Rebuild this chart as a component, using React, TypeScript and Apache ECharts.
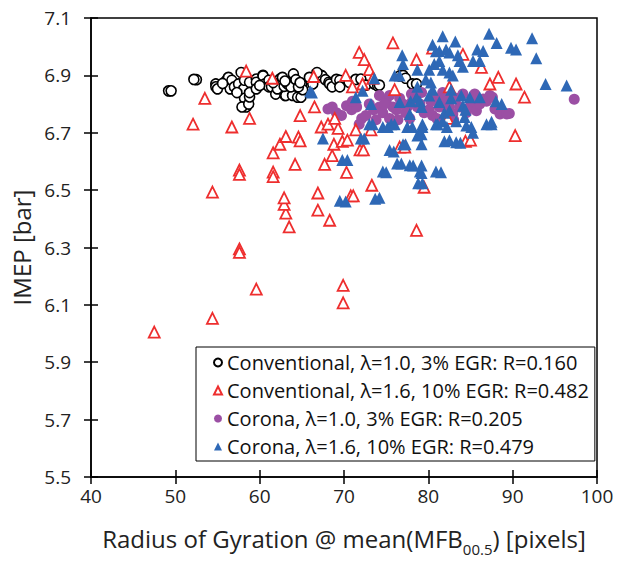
import React, { useEffect, useRef } from "react";
import * as echarts from "echarts";

const xTicks = { min: 40, max: 100, interval: 10 };
const yTicks = { min: 5.5, max: 7.1, interval: 0.2 };

const seriesNames = [
  "Conventional, λ=1.0, 3% EGR: R=0.160",
  "Conventional, λ=1.6, 10% EGR: R=0.482",
  "Corona, λ=1.0, 3% EGR: R=0.205",
  "Corona, λ=1.6, 10% EGR: R=0.479",
];

const conv10: number[][] = [
  [49.2, 6.846], [49.5, 6.846], [52.5, 6.885], [52.2, 6.886], [54.8, 6.87], [54.8, 6.86], [55.0, 6.853],
  [56.0, 6.88], [56.2, 6.887], [56.3, 6.893], [56.5, 6.853], [56.7, 6.883], [57.0, 6.86], [57.8, 6.91],
  [57.5, 6.87], [58.1, 6.853], [58.2, 6.883], [58.2, 6.82], [58.4, 6.79], [57.9, 6.79], [58.7, 6.80],
  [58.8, 6.825], [58.8, 6.876], [58.8, 6.84], [59.6, 6.887], [59.6, 6.876], [59.6, 6.853], [60.4, 6.90],
  [60.4, 6.898], [60.6, 6.87], [61.1, 6.883], [61.1, 6.86], [61.4, 6.86], [61.9, 6.835], [62.1, 6.853],
  [62.4, 6.887], [62.7, 6.893], [63.0, 6.83], [63.1, 6.83], [63.5, 6.876], [63.9, 6.89], [63.9, 6.883],
  [63.9, 6.83], [64.2, 6.87], [64.5, 6.824], [64.9, 6.824], [65.0, 6.87], [65.1, 6.85], [65.9, 6.893],
  [66.3, 6.87], [67.3, 6.90], [67.4, 6.898], [67.8, 6.885], [68.2, 6.876], [68.3, 6.87], [68.6, 6.86],
  [69.1, 6.886], [69.5, 6.883], [69.5, 6.86], [70.6, 6.876], [71.4, 6.886], [72.0, 6.887], [72.6, 6.866],
  [73.6, 6.87], [74.0, 6.863], [74.2, 6.866], [76.6, 6.898], [77.0, 6.90], [77.3, 6.89], [78.1, 6.87],
  [78.6, 6.87], [61.6, 6.875], [62.9, 6.862], [60.0, 6.865], [57.3, 6.84], [55.6, 6.872], [64.0, 6.905],
  [66.8, 6.91], [63.3, 6.87], [63.7, 6.86], [64.3, 6.885], [64.6, 6.86], [63.0, 6.88], [64.8, 6.875],
];

const conv16: number[][] = [
  [47.5, 6.005], [54.4, 6.053], [59.6, 6.155], [69.9, 6.168], [69.9, 6.107], [57.6, 6.295], [57.6, 6.283],
  [63.5, 6.372], [68.3, 6.395], [78.6, 6.36], [63.1, 6.42], [62.9, 6.45], [66.9, 6.43], [62.9, 6.473],
  [54.4, 6.493], [66.9, 6.49], [70.8, 6.48], [71.1, 6.48], [73.3, 6.517], [79.5, 6.51], [70.3, 6.562],
  [57.6, 6.57], [57.6, 6.555], [61.6, 6.563], [61.6, 6.547], [64.2, 6.59], [67.7, 6.59], [68.6, 6.62],
  [68.8, 6.66], [71.9, 6.64], [72.3, 6.64], [76.6, 6.65], [77.2, 6.65], [84.4, 6.67], [85.0, 6.674],
  [90.3, 6.69], [61.6, 6.63], [62.4, 6.66], [63.1, 6.687], [64.6, 6.685], [64.8, 6.672], [69.8, 6.67],
  [70.4, 6.674], [67.3, 6.72], [68.1, 6.73], [69.3, 6.715], [71.4, 6.71], [73.2, 6.71], [52.1, 6.73],
  [56.7, 6.72], [58.8, 6.75], [53.5, 6.82], [64.8, 6.76], [66.5, 6.79], [68.9, 6.75], [82.3, 6.75],
  [58.4, 6.915], [61.5, 6.89], [66.4, 6.896], [70.2, 6.90], [71.0, 6.86], [71.8, 6.98], [72.4, 6.955],
  [73.0, 6.92], [73.4, 6.89], [75.8, 7.013], [78.6, 6.955], [76.0, 6.85], [80.5, 6.995], [84.1, 6.973],
  [86.3, 6.928], [82.5, 6.86], [87.3, 6.87], [88.3, 6.893], [90.4, 6.87], [91.4, 6.824], [72.2, 6.87],
];

const corona10: number[][] = [
  [68.1, 6.783], [68.6, 6.79], [69.1, 6.77], [69.7, 6.76], [70.3, 6.794], [70.9, 6.78], [71.5, 6.79],
  [71.8, 6.73], [72.1, 6.75], [72.6, 6.76], [73.0, 6.80], [73.5, 6.78], [74.2, 6.79], [74.2, 6.83],
  [74.6, 6.77], [75.0, 6.81], [75.4, 6.83], [75.4, 6.75], [75.8, 6.79], [76.2, 6.78], [76.6, 6.82],
  [77.0, 6.80], [77.3, 6.77], [77.8, 6.75], [78.1, 6.81], [78.7, 6.79], [79.2, 6.84], [79.5, 6.77],
  [80.1, 6.78], [80.5, 6.76], [80.9, 6.82], [81.3, 6.79], [81.7, 6.84], [82.1, 6.80], [82.5, 6.79],
  [82.9, 6.765], [83.3, 6.82], [83.7, 6.79], [84.1, 6.835], [84.5, 6.77], [84.9, 6.79], [85.3, 6.81],
  [85.7, 6.777], [86.1, 6.80], [86.5, 6.818], [86.9, 6.81], [87.3, 6.83], [87.6, 6.824], [87.9, 6.783],
  [88.5, 6.765], [88.8, 6.772], [89.3, 6.765], [89.6, 6.767], [97.3, 6.817], [76.4, 6.745], [79.0, 6.80],
  [81.0, 6.75], [83.0, 6.745], [73.8, 6.745], [71.0, 6.81], [78.0, 6.835], [80.3, 6.81], [85.5, 6.835],
  [82.0, 6.825], [77.5, 6.79], [74.8, 6.80],
];

const corona16: number[][] = [
  [66.2, 6.84], [66.0, 6.845], [67.5, 6.68], [69.5, 6.463], [70.2, 6.46], [69.8, 6.605], [70.4, 6.605],
  [71.4, 6.824], [72.2, 6.846], [72.0, 6.68], [72.4, 6.68], [73.0, 6.73], [73.2, 6.80], [73.4, 6.73],
  [73.6, 6.89], [73.7, 6.47], [74.2, 6.473], [74.6, 6.72], [74.6, 6.565], [75.0, 6.562], [75.2, 6.72],
  [75.4, 6.64], [75.6, 6.73], [75.9, 6.635], [76.0, 6.90], [76.0, 6.73], [76.3, 6.593], [76.6, 6.807],
  [76.6, 6.90], [76.8, 6.593], [76.9, 6.97], [77.0, 6.94], [77.0, 6.66], [77.3, 6.66], [77.5, 6.72],
  [77.8, 6.765], [77.8, 6.587], [77.9, 6.81], [78.1, 6.72], [78.2, 6.586], [78.6, 6.824], [78.7, 6.92],
  [78.7, 6.86], [78.7, 6.69], [78.8, 6.524], [79.0, 6.81], [79.0, 6.565], [79.2, 6.79], [79.2, 6.695],
  [79.2, 6.66], [79.2, 6.586], [79.2, 6.56], [79.3, 6.73], [79.3, 6.72], [79.3, 6.524], [79.7, 6.886],
  [80.1, 6.92], [80.1, 6.83], [80.3, 6.875], [80.5, 7.007], [80.5, 6.85], [80.7, 6.94], [80.9, 6.984],
  [80.9, 6.73], [80.9, 6.565], [81.1, 6.73], [81.3, 6.95], [81.3, 6.985], [81.3, 6.807], [81.5, 6.562],
  [81.7, 7.036], [81.7, 6.92], [81.7, 6.74], [81.9, 6.77], [81.9, 6.67], [82.1, 6.99], [82.2, 6.72],
  [82.5, 6.98], [82.5, 6.91], [82.5, 6.674], [82.5, 6.778], [82.7, 6.85], [82.7, 6.82], [82.9, 6.90],
  [83.2, 7.018], [83.3, 6.74], [83.3, 6.667], [83.5, 6.97], [83.7, 6.95], [83.8, 6.665], [83.9, 6.83],
  [84.1, 6.93], [84.1, 6.794], [84.3, 6.755], [84.4, 6.78], [84.5, 6.725], [84.9, 6.824], [85.1, 6.72],
  [85.3, 6.95], [85.3, 6.70], [85.8, 6.99], [86.1, 6.824], [86.1, 6.95], [86.5, 6.985], [86.9, 6.73],
  [87.2, 7.045], [87.5, 6.73], [87.5, 6.738], [88.0, 6.81], [88.1, 7.013], [88.7, 6.80], [89.8, 6.996],
  [90.4, 6.99], [92.3, 7.029], [92.8, 6.96], [93.9, 6.87], [96.4, 6.865],
];

const FONT = "'Open Sans', 'Noto Sans', sans-serif";
const TEXT = "#222";
const BLACK = "#000";
const RED = "#ee2e2e";
const PURPLE = "#9b4fa4";
const BLUE = "#2e68b6";

export default function App() {
  const ref = useRef<HTMLDivElement>(null);
  useEffect(() => {
    if (!ref.current) return;
    const chart = echarts.init(ref.current, undefined, { renderer: "svg" });
    const axisLineStyle = { color: BLACK, width: 1.5 };
    const baseX = { type: "value", ...xTicks, splitLine: { show: false } };
    const baseY = { type: "value", ...yTicks, splitLine: { show: false } };
    chart.setOption({
      animation: false,
      backgroundColor: "#fff",
      grid: {
        left: 91, right: 22, top: 18, bottom: 78,
        show: true, borderColor: BLACK, borderWidth: 1.5, backgroundColor: "transparent",
      },
      xAxis: [
        {
          ...baseX,
          position: "bottom",
          axisLine: { show: true, lineStyle: axisLineStyle },
          axisTick: { show: true, length: 7, lineStyle: axisLineStyle },
          axisLabel: { color: TEXT, fontSize: 19, fontFamily: FONT, margin: 9 },
          name: "{a|Radius of Gyration @ mean(MFB}{s|00.5}{a|) [pixels]}",
          nameLocation: "middle",
          nameGap: 46,
          nameTextStyle: {
            rich: {
              a: { fontSize: 24, fontFamily: FONT, color: TEXT, lineHeight: 30, verticalAlign: "middle" },
              s: { fontSize: 15, fontFamily: FONT, color: TEXT, lineHeight: 30, verticalAlign: "bottom", padding: [0, 0, -3, 0] },
            },
          },
        },
        {
          ...baseX,
          position: "bottom",
          offset: 0,
          axisLine: { show: false },
          axisTick: { show: true, inside: true, length: 7, lineStyle: axisLineStyle },
          axisLabel: { show: false },
        },
      ],
      yAxis: [
        {
          ...baseY,
          position: "left",
          axisLine: { show: true, lineStyle: axisLineStyle },
          axisTick: { show: true, length: 7, lineStyle: axisLineStyle },
          axisLabel: {
            color: TEXT, fontSize: 19, fontFamily: FONT, margin: 20,
            formatter: (v: number) => v.toFixed(1),
          },
          name: "IMEP [bar]",
          nameLocation: "middle",
          nameGap: 56,
          nameTextStyle: { fontSize: 24, fontFamily: FONT, color: TEXT },
        },
        {
          ...baseY,
          position: "left",
          offset: 0,
          axisLine: { show: false },
          axisTick: { show: true, inside: true, length: 7, lineStyle: axisLineStyle },
          axisLabel: { show: false },
        },
      ],
      legend: {
        orient: "vertical",
        left: 196,
        top: 347,
        data: seriesNames,
        backgroundColor: "#fff",
        borderColor: BLACK,
        borderWidth: 1,
        padding: [5, 6, 4, 17],
        itemGap: 7,
        itemWidth: 8,
        itemHeight: 8,
        textStyle: { fontSize: 20, lineHeight: 21, fontFamily: FONT, color: "#111" },
      },
      series: [
        {
          name: seriesNames[0], type: "scatter", data: conv10, symbol: "circle", symbolSize: 10,
          itemStyle: { color: "#fff", borderColor: BLACK, borderWidth: 1.6, opacity: 1 },
        },
        {
          name: seriesNames[2], type: "scatter", data: corona10, symbol: "circle", symbolSize: 11,
          itemStyle: { color: PURPLE, opacity: 1 },
        },
        {
          name: seriesNames[1], type: "scatter", data: conv16, symbol: "triangle", symbolSize: 11,
          itemStyle: { color: "#fff", borderColor: RED, borderWidth: 1.8, opacity: 1 },
        },
        {
          name: seriesNames[3], type: "scatter", data: corona16, symbol: "triangle", symbolSize: 12,
          itemStyle: { color: BLUE, opacity: 1 },
        },
      ],
    });
    return () => chart.dispose();
  }, []);
  return <div ref={ref} style={{ width: 619, height: 561, position: "absolute", left: 0, top: 0 }} />;
}
